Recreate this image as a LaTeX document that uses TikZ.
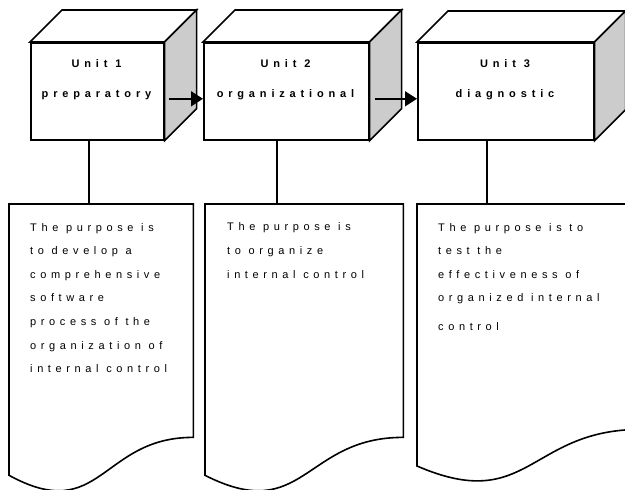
\documentclass[tikz,border=0pt]{standalone}
\usepackage{fontspec}
\setmainfont{Liberation Sans}
\newfontfamily\spacedfont[LetterSpace=42]{Liberation Sans}
\newfontfamily\spacedboldfont[LetterSpace=44]{Liberation Sans}
\usetikzlibrary{arrows.meta}
\begin{document}
\begin{tikzpicture}[x=1pt,y=-1pt,
  line/.style={line width=1.6pt, line join=miter},
  face/.style={line, draw, fill=white, minimum height=97pt, inner sep=0pt, anchor=north west},
  sideface/.style={line, draw, fill=black!20},
  topface/.style={line, draw, fill=white},
  docbox/.style={inner sep=0pt, anchor=north west},
  docline/.style={line, draw, fill=white},
  unitlab/.style={font={\spacedboldfont\bfseries\fontsize{11}{13}\selectfont}, inner sep=0pt, anchor=base},
  body/.style={font={\spacedfont\fontsize{11}{23.6}\selectfont}, align=left, inner sep=0pt, anchor=base west},
  arr/.style={line, -{Triangle[length=12pt,width=15pt]}}]
\useasboundingbox[fill=white] (0,0) rectangle (625,490);

% ---- documents ----
\node[docbox, minimum width=184pt, minimum height=233pt] (d1) at (9,204) {};
\draw[docline] (d1.north west) -- (d1.north east) -- (d1.south east)
  .. controls (101,437) and (101,525.6) .. (9,475.3) -- cycle;
\node[docbox, minimum width=198pt, minimum height=233pt] (d2) at (205,204) {};
\draw[docline] (d2.north west) -- (d2.north east) -- (d2.south east)
  .. controls (304,437) and (304,525.6) .. (205,475.3) -- cycle;
\node[docbox, minimum width=224pt, minimum height=225pt] (d3) at (417,204) {};
\draw[docline] (d3.north west) -- (d3.north east) -- (d3.south east)
  .. controls (529,429) and (529,514.5) .. (417,466) -- cycle;

% ---- cubes ----
\node[face, minimum width=133pt] (f1) at (30,42) {};
\draw[topface] (f1.north west) -- ++(32,-32) -- ([shift={(32,-32)}]f1.north east) -- (f1.north east) -- cycle;
\draw[sideface] (f1.north east) -- ++(32,-32) -- ([shift={(32,-32)}]f1.south east) -- (f1.south east) -- cycle;

\node[face, minimum width=165pt] (f2) at (203,42) {};
\draw[topface] (f2.north west) -- ++(32,-32) -- ([shift={(32,-32)}]f2.north east) -- (f2.north east) -- cycle;
\draw[sideface] (f2.north east) -- ++(32,-32) -- ([shift={(32,-32)}]f2.south east) -- (f2.south east) -- cycle;

\node[face, minimum width=176pt] (f3) at (417,42) {};
\draw[topface] (f3.north west) -- ++(31,-31) -- ([shift={(31,-31)}]f3.north east) -- (f3.north east) -- cycle;
\draw[sideface] (f3.north east) -- ++(31,-31) -- ([shift={(31,-31)}]f3.south east) -- (f3.south east) -- cycle;

% ---- cube labels ----
\node[unitlab] (u1) at (96.5,67) {Unit 1};
\node[unitlab] (p1) at (96.5,97) {preparatory};
\node[unitlab] (u2) at (285.5,67) {Unit 2};
\node[unitlab] (p2) at (285.5,97) {organizational};
\node[unitlab] (u3) at (505,67) {Unit 3};
\node[unitlab] (p3) at (505,97) {diagnostic};

% ---- arrows ----
\draw[arr] ([shift={(4,7.5)}]f1.east) -- ([shift={(0,7.5)}]f2.west);
\draw[arr] ([shift={(5,7.5)}]f2.east) -- ([shift={(0,7.5)}]f3.west);

% ---- connectors ----
\coordinate (k1) at (89,139);
\coordinate (k2) at (277,139);
\coordinate (k3) at (487,139);
\draw[line] (k1) -- (k1 |- d1.north);
\draw[line] (k2) -- (k2 |- d2.north);
\draw[line] (k3) -- (k3 |- d3.north);

% ---- texts (anchored at the baseline of the last line) ----
\node[body] (b1) at (30,372.6) {The purpose is\\to develop a\\comprehensive\\software\\process of the\\organization of\\internal control};
\node[body] (b2) at (227,278) {The purpose is\\to organize\\internal control};
\node[body] (b3) at (438,330.4) {The purpose is to\\test the\\effectiveness of\\organized internal\\[5pt]control};
\end{tikzpicture}
\end{document}
